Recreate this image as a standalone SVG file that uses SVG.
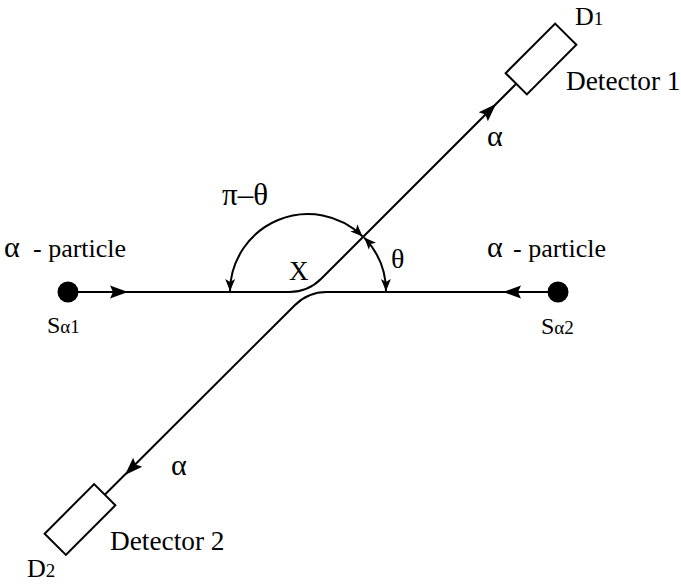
<svg xmlns="http://www.w3.org/2000/svg" xmlns:xlink="http://www.w3.org/1999/xlink" width="681" height="584" viewBox="0 0 681 584">
<style>
  .ln { fill: none; stroke: #000; stroke-width: 2; }
  .arc { fill: none; stroke: #000; stroke-width: 2; marker-start: url(#sa); marker-end: url(#sa); }
  .det { fill: #fff; stroke: #000; stroke-width: 2; }
  .dot { fill: #000; }
  text { font-family: "Liberation Serif", "Times New Roman", serif; font-size: 26px; fill: #000; }
  .sub { font-size: 19px; }
  .gr { font-size: 30px; }
  .lab { font-size: 27.3px; }
  .s { font-size: 24px; }
</style>
<defs>
  <path id="ah" d="M0,0 L-18,-6.5 L-15,0 L-18,6.5 Z" fill="#000"/>
  <marker id="sa" markerUnits="userSpaceOnUse" markerWidth="14" markerHeight="12" refX="12" refY="5" orient="auto-start-reverse" viewBox="0 0 14 10">
    <path d="M12,5 L0,0 L3,5 L0,10 Z" fill="#000"/>
  </marker>
</defs>
<rect width="681" height="584" fill="#fff"/>

<g id="connectors">
  <path id="path1" class="ln" d="M68,292 H289.4 A45 45 0 0 0 321.2,278.8 L516.25,83.75"/>
  <path id="path2" class="ln" d="M558,292 H326.6 A45 45 0 0 0 294.8,305.2 L104.75,494.75"/>
  <use href="#ah" transform="translate(128,292)"/>
  <use href="#ah" transform="translate(503,292) rotate(180)"/>
  <use href="#ah" transform="translate(496,104) rotate(-45)"/>
  <use href="#ah" transform="translate(125,475) rotate(135)"/>
</g>

<g id="angles">
  <path class="arc" d="M230,291 A78 78 0 0 1 362.4,236.2"/>
  <path class="arc" d="M364.2,237.6 A78 78 0 0 1 386,291"/>
  <text x="222" y="205" style="font-size:31px">π–θ</text>
  <text x="391" y="268" style="font-size:28px">θ</text>
  <text x="289" y="280" style="font-size:27px">X</text>
</g>

<g id="source1">
  <circle class="dot" cx="68" cy="292" r="10.5"/>
  <text x="4" y="257" class="gr">α</text>
  <text x="33" y="257">- particle</text>
  <text x="47" y="333" class="s">S<tspan class="sub">α1</tspan></text>
</g>

<g id="source2">
  <circle class="dot" cx="558" cy="292" r="10.5"/>
  <text x="487" y="257" class="gr">α</text>
  <text x="513" y="257">- particle</text>
  <text x="541" y="334" class="s">S<tspan class="sub">α2</tspan></text>
</g>

<g id="detector1">
  <rect class="det" x="-35" y="-15" width="70" height="30" transform="translate(541,59) rotate(-45)"/>
  <text x="575" y="25">D<tspan class="sub">1</tspan></text>
  <text x="566" y="90" class="lab">Detector 1</text>
  <text x="487" y="146" class="gr">α</text>
</g>

<g id="detector2">
  <rect class="det" x="-35" y="-15" width="70" height="30" transform="translate(80,519.5) rotate(-45)"/>
  <text x="27" y="577">D<tspan class="sub">2</tspan></text>
  <text x="110" y="550" class="lab">Detector 2</text>
  <text x="171" y="475" class="gr">α</text>
</g>
</svg>
